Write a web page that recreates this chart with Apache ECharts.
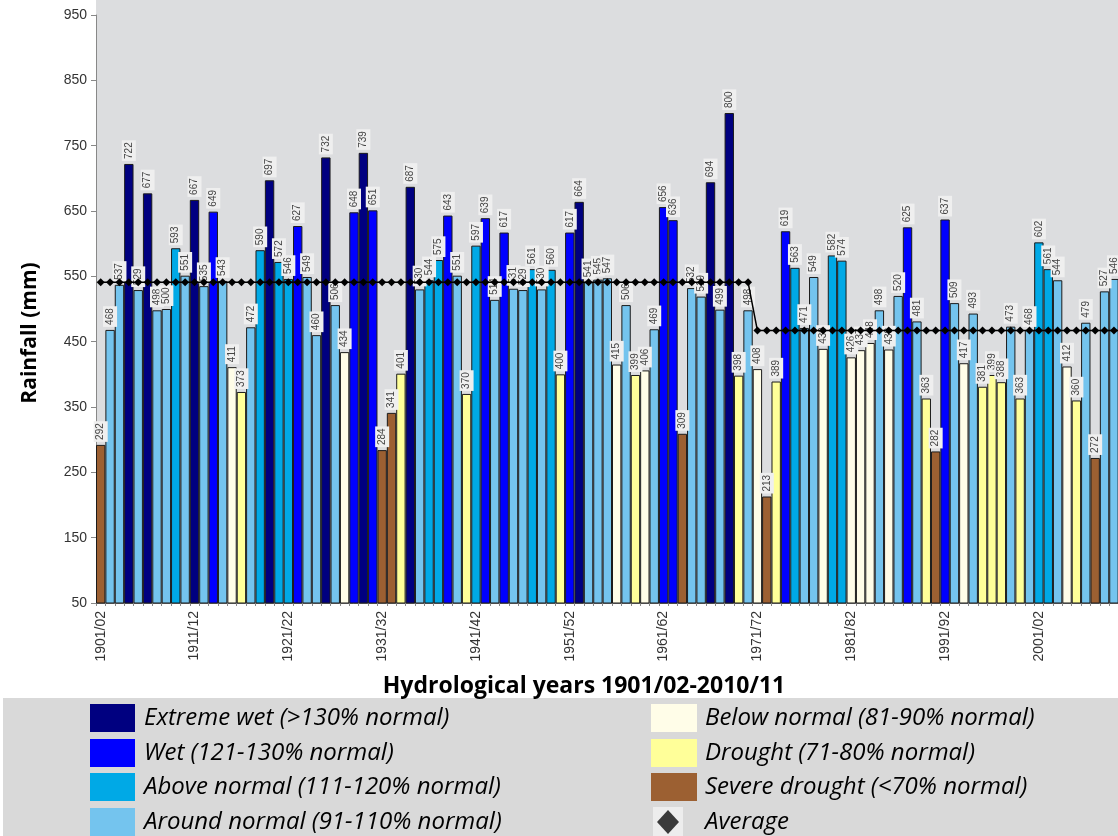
<!DOCTYPE html>
<html>
<head>
<meta charset="utf-8">
<title>Hydrological years rainfall</title>
<script src="https://cdn.jsdelivr.net/npm/echarts@6/dist/echarts.min.js"></script>
<style>
  html, body { margin: 0; padding: 0; overflow: hidden; background: #fff; }
  #chart { width: 1140px; height: 836px; }
</style>
</head>
<body>
<div id="chart"></div>
<script>
// hydrological years 1901/02 .. 2010/11
const years = []
for (let y = 1901; y <= 2010; y++) years.push(y + '/' + String((y + 1) % 100).padStart(2, '0'))

// annual rainfall (mm); last year is outside the picture
const rainfall = [
  292, 468, 537, 722, 529, 677, 498, 500, 593, 551,
  667, 535, 649, 543, 411, 373, 472, 590, 697, 572,
  546, 627, 549, 460, 732, 506, 434, 648, 739, 651,
  284, 341, 401, 687, 530, 544, 575, 643, 551, 370,
  597, 639, 514, 617, 531, 529, 561, 530, 560, 400,
  617, 664, 541, 545, 547, 415, 506, 399, 406, 469,
  656, 636, 309, 532, 519, 694, 499, 800, 398, 498,
  408, 213, 389, 619, 563, 471, 549, 439, 582, 574,
  426, 437, 448, 498, 438, 520, 625, 481, 363, 282,
  637, 509, 417, 493, 381, 399, 388, 473, 363, 468,
  602, 561, 544, 412, 360, 479, 272, 527, 546, null
]

// class of each year: E extreme wet, W wet, A above, N around, B below, D drought, S severe drought
const classes = [
  'S','N','N','E','N','E','N','N','A','N',
  'E','N','W','N','B','D','N','A','E','A',
  'A','W','N','N','E','N','B','W','E','W',
  'S','S','D','E','N','A','A','W','N','D',
  'A','W','N','W','N','N','A','N','A','D',
  'W','E','N','N','N','B','N','D','B','N',
  'W','W','S','N','N','E','N','E','D','N',
  'B','S','D','W','A','N','N','B','A','A',
  'B','B','B','N','B','N','W','N','D','S',
  'W','N','B','N','D','D','D','N','D','N',
  'A','A','N','B','D','N','S','N','N','N'
]

// average lines: 1901/02-1970/71 and 1971/72-2010/11
const averagePeriods = [
  { until: '1970/71', value: 541 },
  { until: '2010/11', value: 467 }
]

const yTicks = { min: 50, max: 950, interval: 100 }

const classInfo = {
  E: { name: 'Extreme wet (>130% normal)', color: '#000080' },
  W: { name: 'Wet (121-130% normal)', color: '#0000FF' },
  A: { name: 'Above normal (111-120% normal)', color: '#00A9E6' },
  N: { name: 'Around normal (91-110% normal)', color: '#74C4EE' },
  B: { name: 'Below normal (81-90% normal)', color: '#FFFDE8' },
  D: { name: 'Drought (71-80% normal)', color: '#FFFF99' },
  S: { name: 'Severe drought (<70% normal)', color: '#9C6032' }
}
const legendLeft = ['E', 'W', 'A', 'N']
const legendRight = ['B', 'D', 'S']

const average = years.map(yr => {
  const p = averagePeriods.find(p => yr <= p.until)
  return p.value
})

const plotBg = '#DCDDDF'
const rowY = [718, 753, 787, 822]
const legendFont = 'italic 24px "Open Sans"'

const graphic = [
  {type: 'rect', left: 96, top: 0, shape: {width: 1044, height: 15}, style: {fill: plotBg}, silent: true},
  {type: 'rect', left: 3, top: 698, shape: {width: 1137, height: 138}, style: {fill: '#D9D9D9'}, silent: true, z: 0},
  {
    type: 'text', x: 30, y: 333, rotation: Math.PI / 2,
    style: {text: 'Rainfall (mm)', font: 'bold 21px "Open Sans"', fill: '#000', align: 'center', verticalAlign: 'middle'}
  },
  {
    type: 'text', x: 584, y: 686,
    style: {text: 'Hydrological years 1901/02-2010/11', font: 'bold 23px "Open Sans"', fill: '#000', align: 'center', verticalAlign: 'middle'}
  }
]
legendLeft.forEach((k, i) => {
  graphic.push({type: 'rect', x: 90, y: rowY[i] - 14, shape: {width: 45, height: 28}, style: {fill: classInfo[k].color}, z: 2})
  graphic.push({type: 'text', x: 144, y: rowY[i], z: 2,
    style: {text: classInfo[k].name, font: legendFont, fill: '#000', verticalAlign: 'middle'}})
})
legendRight.forEach((k, i) => {
  graphic.push({type: 'rect', x: 651, y: rowY[i] - 14, shape: {width: 46, height: 28}, style: {fill: classInfo[k].color}, z: 2})
  graphic.push({type: 'text', x: 705, y: rowY[i], z: 2,
    style: {text: classInfo[k].name, font: legendFont, fill: '#000', verticalAlign: 'middle'}})
})
graphic.push({type: 'rect', x: 653, y: rowY[3] - 15, shape: {width: 30, height: 30}, style: {fill: '#EDEDED'}, z: 2})
graphic.push({type: 'polygon', z: 3, shape: {points: [[668, rowY[3] - 12], [679, rowY[3]], [668, rowY[3] + 12], [657, rowY[3]]]},
  style: {fill: '#3a3a3a'}})
graphic.push({type: 'text', x: 705, y: rowY[3], z: 2,
  style: {text: 'Average', font: legendFont, fill: '#000', verticalAlign: 'middle'}})

const chart = echarts.init(document.getElementById('chart'))
chart.setOption({
  animation: false,
  backgroundColor: '#fff',
  grid: {
    left: 96, right: 12, top: 15, bottom: 233,
    show: true, backgroundColor: plotBg, borderWidth: 0
  },
  xAxis: {
    type: 'category',
    data: years,
    axisLine: {lineStyle: {color: '#777', width: 1}},
    axisTick: {show: true, interval: 0, length: 3, lineStyle: {color: '#888'}},
    axisLabel: {
      interval: 9, rotate: 90, margin: 8,
      fontSize: 14, color: '#333', fontFamily: 'Liberation Sans'
    },
    splitLine: {show: false}
  },
  yAxis: {
    type: 'value',
    min: yTicks.min, max: yTicks.max, interval: yTicks.interval,
    axisLine: {show: true, lineStyle: {color: '#888'}},
    axisTick: {show: true, length: 5, lineStyle: {color: '#888'}},
    axisLabel: {fontSize: 14, color: '#333', fontFamily: 'Liberation Sans', margin: 9},
    splitLine: {show: false}
  },
  graphic: graphic,
  series: [
    {
      name: 'Rainfall',
      type: 'bar',
      barCategoryGap: '0%',
      data: rainfall.map((v, i) => ({
        value: v == null ? '-' : v,
        itemStyle: {color: classInfo[classes[i]].color}
      })),
      itemStyle: {borderColor: '#1b1b1b', borderWidth: 1},
      label: {
        show: true,
        position: 'top',
        rotate: 90,
        align: 'left',
        verticalAlign: 'middle',
        distance: 3,
        fontSize: 10,
        fontFamily: 'Liberation Sans',
        color: '#444',
        backgroundColor: '#EFEFEF',
        padding: [2, 2, 2, 2]
      }
    },
    {
      name: 'Average',
      type: 'line',
      data: average,
      symbol: 'diamond',
      symbolSize: 8,
      showAllSymbol: true,
      z: 3,
      itemStyle: {color: '#000'},
      lineStyle: {color: '#000', width: 1.5}
    }
  ]
})
</script>
</body>
</html>
